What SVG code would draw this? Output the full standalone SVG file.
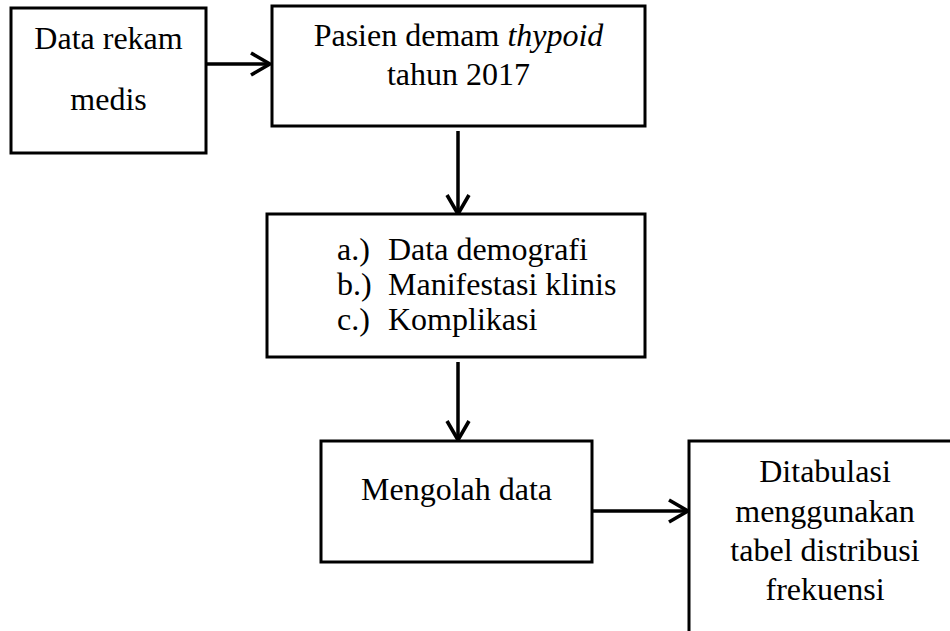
<svg xmlns="http://www.w3.org/2000/svg" width="950" height="631" viewBox="0 0 950 631">
<style>
.box{fill:#fff;stroke:#000;stroke-width:3}
.t{font-family:"Liberation Serif","Times New Roman",serif;font-size:32px;fill:#000}
.c{text-anchor:middle}
.conn{stroke:#000;stroke-width:3.5;fill:none}
</style>
<defs>
<marker id="ah" viewBox="0 0 24 26" markerUnits="userSpaceOnUse" markerWidth="24" markerHeight="26" refX="21" refY="13" orient="auto">
<path d="M2,2 L21,13 L2,24" fill="none" stroke="#000" stroke-width="3.6"/>
</marker>
</defs>
<rect width="950" height="631" fill="#fff"/>
<g id="connectors">
<path class="conn" d="M206,64 L270,64" marker-end="url(#ah)"/>
<path class="conn" d="M458,131 L458,214" marker-end="url(#ah)"/>
<path class="conn" d="M458,362 L458,440" marker-end="url(#ah)"/>
<path class="conn" d="M592,511 L688,511" marker-end="url(#ah)"/>
</g>
<g id="node-data-rekam">
<rect class="box" x="11" y="8" width="195" height="145"/>
<text class="t c" x="108.5" y="49">Data rekam</text>
<text class="t c" x="108.5" y="110">medis</text>
</g>
<g id="node-pasien">
<rect class="box" x="272" y="6" width="373" height="120"/>
<text class="t c" x="458.5" y="46">Pasien demam <tspan font-style="italic">thypoid</tspan></text>
<text class="t c" x="458.5" y="85">tahun 2017</text>
</g>
<g id="node-variabel">
<rect class="box" x="267" y="214" width="378" height="143"/>
<text class="t" x="337" y="260">a.)</text>
<text class="t" x="388" y="260">Data demografi</text>
<text class="t" x="337" y="295">b.)</text>
<text class="t" x="388" y="295">Manifestasi klinis</text>
<text class="t" x="337" y="330">c.)</text>
<text class="t" x="388" y="330">Komplikasi</text>
</g>
<g id="node-mengolah">
<rect class="box" x="321" y="441" width="271" height="121"/>
<text class="t c" x="456.5" y="500">Mengolah data</text>
</g>
<g id="node-ditabulasi">
<rect class="box" x="689" y="441" width="280" height="210"/>
<text class="t c" x="825" y="482">Ditabulasi</text>
<text class="t c" x="825" y="522">menggunakan</text>
<text class="t c" x="825" y="561">tabel distribusi</text>
<text class="t c" x="825" y="600">frekuensi</text>
</g>
</svg>
